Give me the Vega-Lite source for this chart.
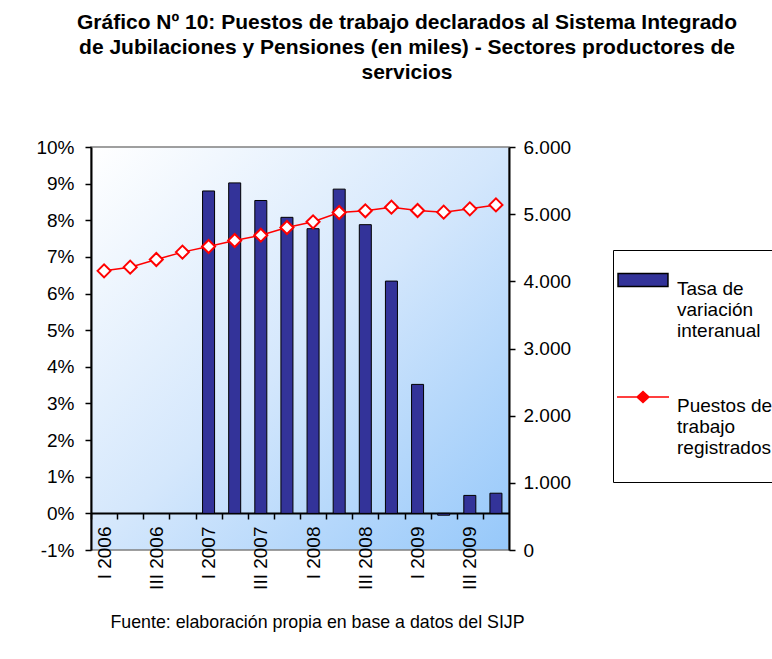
{
  "$schema": "https://vega.github.io/schema/vega-lite/v6.json",
  "autosize": {"type": "none"},
  "padding": {"left": 91, "top": 147, "right": 263, "bottom": 109},
  "width": 418,
  "height": 403,
  "background": "white",
  "title": {
    "text": ["Gráfico Nº 10: Puestos de trabajo declarados al Sistema Integrado", "de Jubilaciones y Pensiones (en miles) - Sectores productores de", "servicios"],
    "font": "Liberation Sans",
    "fontSize": 21,
    "fontWeight": "bold",
    "lineHeight": 25,
    "anchor": "middle",
    "dx": 107,
    "offset": 55,
    "color": "black"
  },
  "data": {
    "values": [
      {"q": "I 2006", "tasa": null, "puestos": 4156},
      {"q": "II 2006", "tasa": null, "puestos": 4211},
      {"q": "III 2006", "tasa": null, "puestos": 4325},
      {"q": "IV 2006", "tasa": null, "puestos": 4435},
      {"q": "I 2007", "tasa": 8.80, "puestos": 4519},
      {"q": "II 2007", "tasa": 9.02, "puestos": 4608},
      {"q": "III 2007", "tasa": 8.54, "puestos": 4687},
      {"q": "IV 2007", "tasa": 8.08, "puestos": 4802},
      {"q": "I 2008", "tasa": 7.77, "puestos": 4886},
      {"q": "II 2008", "tasa": 8.85, "puestos": 5025},
      {"q": "III 2008", "tasa": 7.88, "puestos": 5050},
      {"q": "IV 2008", "tasa": 6.34, "puestos": 5104},
      {"q": "I 2009", "tasa": 3.52, "puestos": 5055},
      {"q": "II 2009", "tasa": -0.05, "puestos": 5030},
      {"q": "III 2009", "tasa": 0.49, "puestos": 5079},
      {"q": "IV 2009", "tasa": 0.55, "puestos": 5138}
    ]
  },
  "encoding": {
    "x": {
      "field": "q",
      "type": "ordinal",
      "sort": null,
      "scale": {
        "domain": ["I 2006", "II 2006", "III 2006", "IV 2006", "I 2007", "II 2007", "III 2007", "IV 2007", "I 2008", "II 2008", "III 2008", "IV 2008", "I 2009", "II 2009", "III 2009", "IV 2009"],
        "paddingInner": 0,
        "paddingOuter": 0
      },
      "axis": {
        "orient": "bottom",
        "offset": -37,
        "title": "Fuente: elaboración propia en base a datos del SIJP",
        "titleFont": "Liberation Sans",
        "titleFontSize": 17.8,
        "titleFontWeight": "normal",
        "titleColor": "black",
        "titlePadding": 24,
        "titleX": 226,
        "labelAngle": 270,
        "labelPadding": 7,
        "labelFont": "Liberation Sans",
        "labelFontSize": 19,
        "labelColor": "black",
        "labelExpr": "(datum.value == 'I 2006' || datum.value == 'III 2006' || datum.value == 'I 2007' || datum.value == 'III 2007' || datum.value == 'I 2008' || datum.value == 'III 2008' || datum.value == 'I 2009' || datum.value == 'III 2009') ? datum.value : ''",
        "tickOffset": -13.06,
        "labelOffset": 13.06,
        "tickSize": 6,
        "tickColor": "black",
        "tickWidth": 1.5,
        "domainColor": "black",
        "domainWidth": 2,
        "grid": false
      }
    }
  },
  "layer": [
    {
      "encoding": {
        "y": {
          "field": "tasa",
          "type": "quantitative",
          "scale": {"domain": [-1, 10], "nice": false},
          "axis": {
            "orient": "left",
            "title": null,
            "values": [-1, 0, 1, 2, 3, 4, 5, 6, 7, 8, 9, 10],
            "labelExpr": "datum.value + '%'",
            "labelFont": "Liberation Sans",
            "labelFontSize": 19,
            "labelColor": "black",
            "labelPadding": 11,
            "tickSize": 6,
            "tickColor": "black",
            "tickWidth": 1.5,
            "domainColor": "black",
            "domainWidth": 2,
            "grid": false
          }
        }
      },
      "layer": [
        {
          "mark": {"type": "bar", "width": {"band": 0.46}},
          "encoding": {
            "color": {
              "datum": "Tasa de variación interanual",
              "scale": {"domain": ["Tasa de variación interanual", "Puestos de trabajo registrados"], "range": ["#333399", "#ff0000"]},
              "legend": {
                "orient": "none",
                "legendX": 522,
                "legendY": 103,
                "title": null,
                "strokeColor": "black",
                "fillColor": "white",
                "padding": 3,
                "labelFont": "Liberation Sans",
                "labelFontSize": 19,
                "labelColor": "black",
                "labelLimit": 400,
                "labelOffset": 7,
                "labelBaseline": "top",
                "rowPadding": 29,
                "symbolType": {"expr": "datum.value == 'Tasa de variación interanual' ? 'M-0.96,-0.25H0.96V0.25H-0.96Z' : 'M-1,0H-0.23M0.23,0H1M-0.23,0L0,-0.21L0.23,0L0,0.21Z'"},
                "symbolStrokeColor": {"expr": "datum.value == 'Tasa de variación interanual' ? 'black' : '#ff0000'"},
                "symbolSize": 2704,
                "symbolStrokeWidth": 1.5,
                "labelExpr": "datum.label == 'Tasa de variación interanual' ? ['Tasa de', 'variación', 'interanual'] : ['Puestos de', 'trabajo', 'registrados', '']",
                "encode": {
                  "labels": {
                    "dy": {"value": -14},
                    "lineHeight": {"value": 26}
                  }
                }
              }
            }
          }
        },
        {
          "mark": {"type": "bar", "width": {"band": 0.46}, "filled": false, "color": "black", "strokeWidth": 1}
        }
      ]
    },
    {
      "encoding": {
        "y": {
          "field": "puestos",
          "type": "quantitative",
          "scale": {"domain": [0, 6000], "nice": false},
          "axis": {
            "orient": "right",
            "title": null,
            "values": [0, 1000, 2000, 3000, 4000, 5000, 6000],
            "labelExpr": "replace(format(datum.value, ','), ',', '.')",
            "labelFont": "Liberation Sans",
            "labelFontSize": 19,
            "labelColor": "black",
            "labelPadding": 8,
            "tickSize": 6,
            "tickColor": "black",
            "tickWidth": 1.5,
            "domainColor": "black",
            "domainWidth": 2,
            "grid": false
          }
        }
      },
      "layer": [
        {"mark": {"type": "line", "color": "#ff0000", "strokeWidth": 1.5}},
        {"mark": {"type": "point", "shape": "diamond", "filled": true, "fill": "white", "stroke": "#ff0000", "strokeWidth": 2, "size": 170, "opacity": 1}}
      ]
    }
  ],
  "resolve": {"scale": {"y": "independent"}},
  "config": {
    "view": {
      "stroke": "#808080",
      "strokeWidth": 1.5,
      "fill": {
        "gradient": "linear",
        "x1": 0, "y1": 0, "x2": 1, "y2": 1,
        "stops": [
          {"offset": 0, "color": "#ffffff"},
          {"offset": 0.5, "color": "#d4e7fc"},
          {"offset": 1, "color": "#96c8fa"}
        ]
      }
    }
  }
}
